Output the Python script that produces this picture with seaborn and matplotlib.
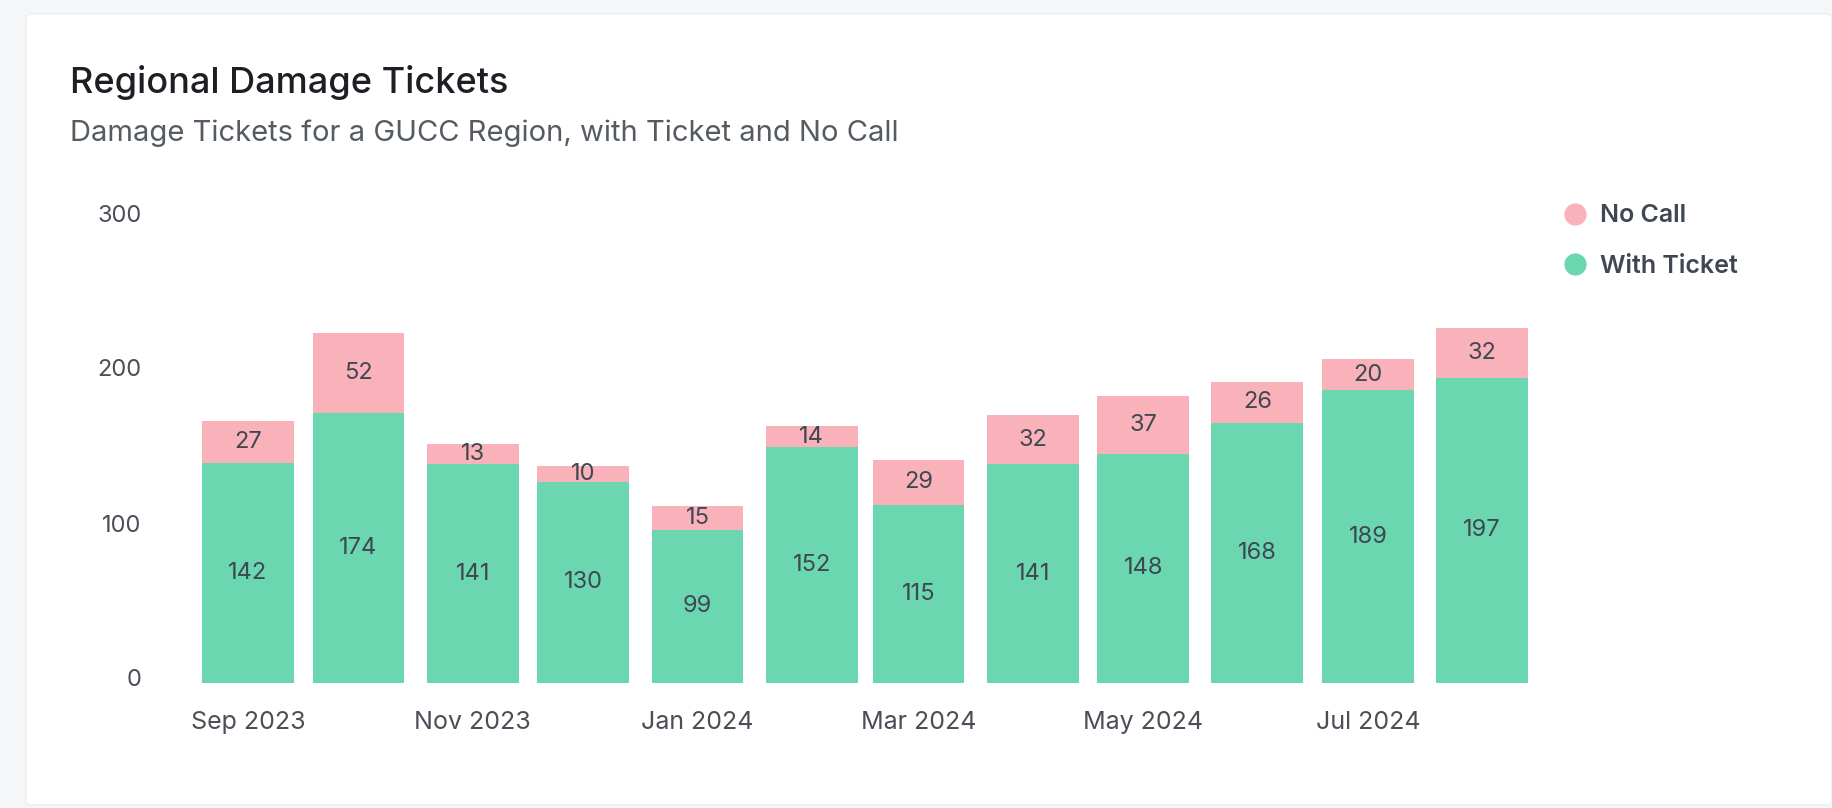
import pandas as pd
import numpy as np
import matplotlib.pyplot as plt
import matplotlib.dates as mdates
import matplotlib.transforms as mtransforms
import seaborn as sns
from matplotlib.lines import Line2D
from matplotlib.patches import FancyBboxPatch

# Data
months = ['2023-09-01', '2023-10-01', '2023-11-01', '2023-12-01', '2024-01-01', '2024-02-01',
          '2024-03-01', '2024-04-01', '2024-05-01', '2024-06-01', '2024-07-01', '2024-08-01']
with_ticket = [142, 174, 141, 130, 99, 152, 115, 141, 148, 168, 189, 197]
no_call = [27, 52, 13, 10, 15, 14, 29, 32, 37, 26, 20, 32]

df = pd.DataFrame({'month': pd.to_datetime(months), 'with_ticket': with_ticket, 'no_call': no_call})
df['x'] = mdates.date2num(df['month'])
df['total'] = df['with_ticket'] + df['no_call']

green = '#6bd7b0'
pink = '#f9b2b9'
text_dark = '#3f4752'

sns.set_theme(style='white')
plt.rcParams['font.family'] = ['Inter', 'DejaVu Sans']

W, H = 1832, 808
fig = plt.figure(figsize=(W / 100, H / 100), dpi=100)
fig.patch.set_facecolor('#f5f6f8')

# white card behind everything
card = FancyBboxPatch((26 / W, 3 / H), 1 - 26 / W, 1 - 17 / H, boxstyle='round,pad=0,rounding_size=0.004',
                      transform=fig.transFigure, facecolor='white', edgecolor='#eceef1', linewidth=1, zorder=-5)
fig.patches.append(card)

# axes placement: y=0 at 683px, y=300 at 218px
ax_left, ax_right = 150, 1560
y_bot, y_top = 683, 218
ax = fig.add_axes([ax_left / W, (H - y_bot) / H, (ax_right - ax_left) / W, (y_bot - y_top) / H])
ax.set_facecolor('none')

sns.barplot(data=df, x='x', y='total', native_scale=True, color=pink, width=0.86,
            saturation=1, edgecolor='none', linewidth=0, ax=ax)
sns.barplot(data=df, x='x', y='with_ticket', native_scale=True, color=green, width=0.86,
            saturation=1, edgecolor='none', linewidth=0, ax=ax)

for _, r in df.iterrows():
    ax.text(r['x'], r['with_ticket'] / 2, str(r['with_ticket']), ha='center', va='center',
            fontsize=17, color=text_dark)
    ax.text(r['x'], r['with_ticket'] + r['no_call'] / 2, str(r['no_call']), ha='center', va='center',
            fontsize=17, color=text_dark)

# x scale: 3.684 px per day, Sep 1 centre at 248px
x0 = df['x'].iloc[0]
ppd = 3.684
ax.set_xlim(x0 - (248 - ax_left) / ppd, x0 + (ax_right - 248) / ppd)
ax.set_ylim(0, 300)
ax.set_yticks([0, 100, 200, 300])
ax.xaxis.set_major_locator(mdates.MonthLocator(bymonth=[1, 3, 5, 7, 9, 11]))
ax.xaxis.set_major_formatter(mdates.DateFormatter('%b %Y'))
ax.tick_params(axis='x', length=0, pad=20, labelsize=18, labelcolor='#4a4f57')
ax.tick_params(axis='y', length=0, pad=6, labelsize=17, labelcolor='#4a4f57')
shift = mtransforms.ScaledTranslation(0, 5 / 100, fig.dpi_scale_trans)
for lbl in ax.get_yticklabels():
    lbl.set_transform(lbl.get_transform() + shift)
ax.set_xlabel('')
ax.set_ylabel('')
sns.despine(ax=ax, left=True, bottom=True)
ax.grid(False)

# legend
handles = [Line2D([0], [0], marker='o', linestyle='', markersize=16, markerfacecolor=pink, markeredgecolor='none'),
           Line2D([0], [0], marker='o', linestyle='', markersize=16, markerfacecolor=green, markeredgecolor='none')]
leg = fig.legend(handles, ['No Call', 'With Ticket'], loc='upper left', bbox_to_anchor=(1540 / W, 1 - 182 / H),
                 frameon=False, fontsize=18, handletextpad=0.5, labelspacing=1.1, handlelength=1.0)
for t in leg.get_texts():
    t.set_color('#3f4752')
    t.set_fontweight('semibold')

# title and subtitle
fig.text(70 / W, 1 - 93 / H, 'Regional Damage Tickets', fontsize=26, color='#1d1f24', va='baseline',
         fontweight='medium')
fig.text(70 / W, 1 - 141 / H, 'Damage Tickets for a GUCC Region, with Ticket and No Call', fontsize=21,
         color='#555b63', va='baseline')

fig.savefig('out.png', dpi=100, facecolor=fig.get_facecolor())
